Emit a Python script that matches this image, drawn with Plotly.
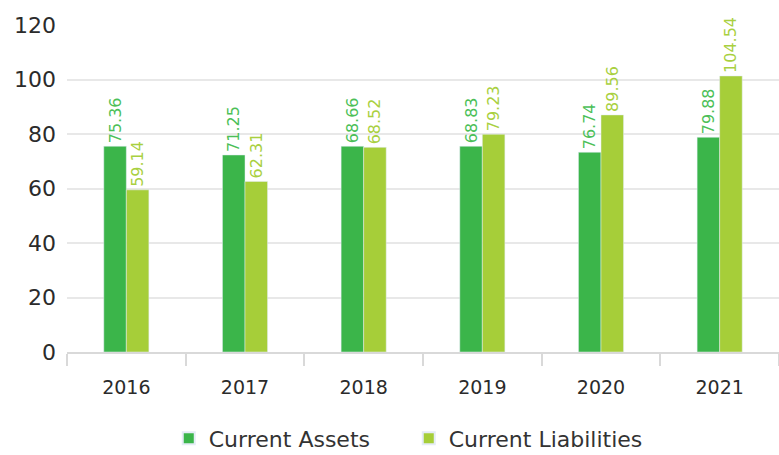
import plotly.graph_objects as go

years = ["2016", "2017", "2018", "2019", "2020", "2021"]
assets_bar = [75.5, 72.3, 75.5, 75.5, 73.3, 78.8]
liab_bar = [59.5, 62.6, 75.1, 79.9, 87.0, 101.3]
assets_labels = ["75.36", "71.25", "68.66", "68.83", "76.74", "79.88"]
liab_labels = ["59.14", "62.31", "68.52", "79.23", "89.56", "104.54"]
y_ticks = [0, 20, 40, 60, 80, 100, 120]

c_assets = "#3bb54a"
c_liab = "#a6ce39"
font_fam = "DejaVu Sans, sans-serif"

fig = go.Figure()
fig.add_trace(go.Bar(
    x=years, y=assets_bar, name="Current Assets", marker_color=c_assets,
    text=assets_labels, textposition="outside", textangle=-90,
    textfont=dict(color="#4cbf58", size=16, family=font_fam), cliponaxis=False,
))
fig.add_trace(go.Bar(
    x=years, y=liab_bar, name="Current Liabilities", marker_color=c_liab,
    text=liab_labels, textposition="outside", textangle=-90,
    textfont=dict(color="#a9d03f", size=16, family=font_fam), cliponaxis=False,
))

fig.update_layout(
    width=779, height=455,
    margin=dict(l=67, r=0, t=25, b=103, autoexpand=False),
    paper_bgcolor="white", plot_bgcolor="white",
    barmode="group", bargap=0.62, bargroupgap=0,
    font=dict(family=font_fam, color="#333333"),
    showlegend=True,
    legend=dict(orientation="h", x=0.48, xanchor="center", y=-0.2, yanchor="top",
                font=dict(size=22, color="#333333"), itemsizing="constant",
                entrywidth=195),
    uniformtext=dict(mode="show", minsize=16),
)
fig.update_yaxes(range=[0, 120], tickvals=y_ticks, showgrid=True, gridcolor="#e8e8e8",
                 gridwidth=1.5, zeroline=False, showline=False, automargin=False,
                 tickfont=dict(size=22, color="#2b2b2b"), ticks="", ticklabelstandoff=10)
fig.update_xaxes(showline=True, linecolor="#d9d9d9", linewidth=1.5, ticks="outside",
                 tickson="boundaries", ticklen=12, tickcolor="#d9d9d9", tickwidth=1.5,
                 automargin=False, ticklabelstandoff=17,
                 tickfont=dict(size=19, color="#2b2b2b"), type="category")

fig.write_html("out.html", config={"displayModeBar": False},
               post_script="document.body.style.margin='0';")
